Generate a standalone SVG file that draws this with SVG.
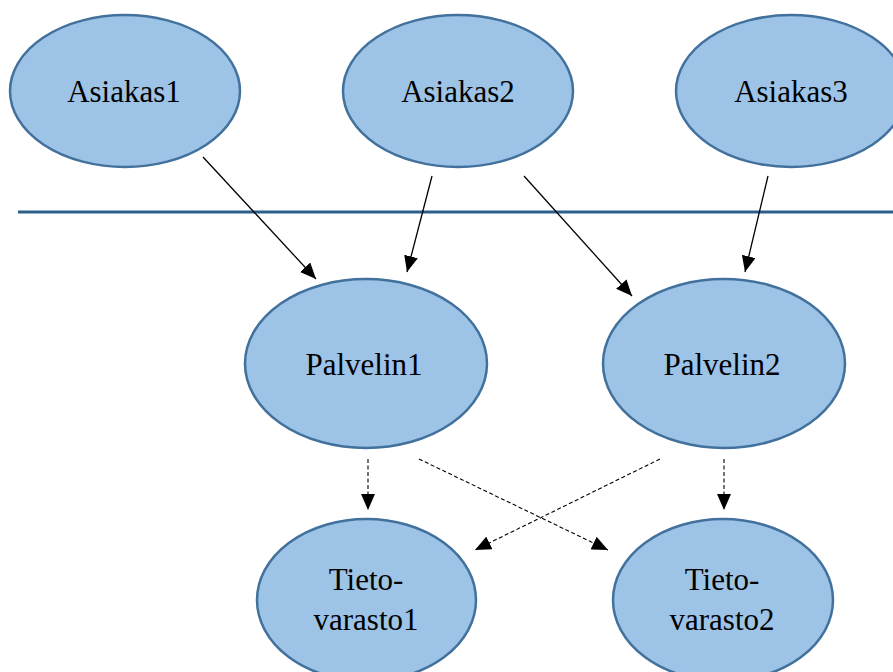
<svg xmlns="http://www.w3.org/2000/svg" width="893" height="672" viewBox="0 0 893 672">
  <style>
    .node ellipse { fill: #9dc3e6; stroke: #41719c; stroke-width: 2.5; }
    .node text { font-family: "Liberation Serif", "Times New Roman", serif; font-size: 31px; fill: #000; text-anchor: middle; }
    .conn line { stroke: #000; stroke-width: 1.3; fill: none; }
    .conn line.dash { stroke-width: 1.1; stroke-dasharray: 4 2.5; }
    .divider { stroke: #2e5e8c; stroke-width: 3; }
  </style>
  <defs>
    <marker id="arrow" viewBox="0 0 16 14" refX="16" refY="7" markerWidth="16" markerHeight="14" markerUnits="userSpaceOnUse" orient="auto">
      <path d="M0,0 L16,7 L0,14 Z" fill="#000"/>
    </marker>
  </defs>

  <rect width="893" height="672" fill="#fff"/>

  <!-- client tier -->
  <g id="asiakas1" class="node">
    <ellipse cx="125" cy="91" rx="115" ry="76"/>
    <text x="124" y="102">Asiakas1</text>
  </g>
  <g id="asiakas2" class="node">
    <ellipse cx="458" cy="91" rx="115" ry="76"/>
    <text x="458" y="102">Asiakas2</text>
  </g>
  <g id="asiakas3" class="node">
    <ellipse cx="791" cy="91" rx="115" ry="76"/>
    <text x="791" y="102">Asiakas3</text>
  </g>

  <!-- network boundary -->
  <line class="divider" x1="18" y1="212" x2="893" y2="212"/>

  <!-- server tier -->
  <g id="palvelin1" class="node">
    <ellipse cx="366" cy="363.5" rx="121" ry="84.5"/>
    <text x="364" y="375">Palvelin1</text>
  </g>
  <g id="palvelin2" class="node">
    <ellipse cx="724" cy="363.5" rx="121" ry="84.5"/>
    <text x="722" y="375">Palvelin2</text>
  </g>

  <!-- storage tier -->
  <g id="tietovarasto1" class="node">
    <ellipse cx="366.5" cy="600" rx="109.5" ry="81"/>
    <text x="366" y="590">Tieto-</text>
    <text x="366" y="630">varasto1</text>
  </g>
  <g id="tietovarasto2" class="node">
    <ellipse cx="723" cy="600" rx="110" ry="81"/>
    <text x="722" y="590">Tieto-</text>
    <text x="722" y="630">varasto2</text>
  </g>

  <!-- connectors -->
  <g id="connectors" class="conn">
    <line x1="203" y1="157" x2="316" y2="279" marker-end="url(#arrow)"/>
    <line x1="432" y1="176" x2="407" y2="272" marker-end="url(#arrow)"/>
    <line x1="524" y1="176" x2="632" y2="296" marker-end="url(#arrow)"/>
    <line x1="768" y1="176" x2="745" y2="272" marker-end="url(#arrow)"/>
    <line class="dash" x1="368" y1="459" x2="368" y2="510" marker-end="url(#arrow)"/>
    <line class="dash" x1="724" y1="459" x2="724" y2="510" marker-end="url(#arrow)"/>
    <line class="dash" x1="419" y1="459" x2="608" y2="550" marker-end="url(#arrow)"/>
    <line class="dash" x1="660" y1="459" x2="475" y2="550" marker-end="url(#arrow)"/>
  </g>
</svg>
